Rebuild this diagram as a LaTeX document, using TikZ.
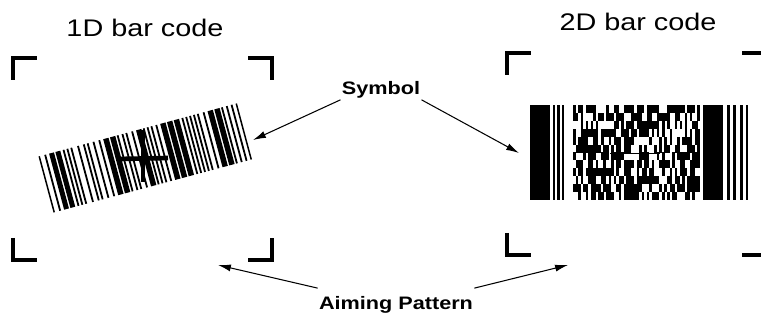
\documentclass[tikz,border=0pt]{standalone}
\usepackage{fontspec}
\setmainfont{Liberation Sans}
\newfontfamily\widefont[FakeStretch=1.2]{Liberation Sans}
\usetikzlibrary{arrows.meta, positioning}

\begin{document}
\begin{tikzpicture}[x=0.03cm, y=-0.03cm,
  corner/.style={line width=3pt, line join=miter},
  pointer/.style={-{Latex[length=11pt, width=6pt]}, line width=0.9pt},
  title/.style={font=\widefont\fontsize{20.5}{24}\selectfont},
  callout/.style={font=\widefont\bfseries\fontsize{15.4}{18}\selectfont, inner sep=1pt}]
  \clip (0,0) rectangle (761,320);

  % titles
  \node[title] (title1d) at (145,28) {1D bar code};
  \node[title] (title2d) at (638,22) {2D bar code};

  % aiming pattern corners of both fields
  \foreach \xa/\xb/\ya/\yb in {13/272/58/260, 507/766/53/255} {
    \draw[corner] (\xa,\ya+22) -- (\xa,\ya) -- (\xa+24,\ya);
    \draw[corner] (\xb-24,\ya) -- (\xb,\ya) -- (\xb,\ya+22);
    \draw[corner] (\xa,\yb-22) -- (\xa,\yb) -- (\xa+24,\yb);
    \draw[corner] (\xb-24,\yb) -- (\xb,\yb) -- (\xb,\yb-22);
  }

  % 1D bar code, tilted
  \begin{scope}[shift={(145,158)}, rotate=15]
    \foreach \bx/\bw in {0/1.5, 6/1.8, 11/5, 17.5/5, 25/1.8, 29/1.8, 33/1.8,
        40/1.8, 46/1.8, 50/1.8, 56/1.8, 62/1.8, 67/5.5, 74/5.5, 81/1.8,
        86/1.8, 90/1.8, 96/1.8, 101/5.5, 108/1.8, 112/1.8, 116/1.8, 121/1.8,
        126/5.5, 133/5.5, 140/5.5, 148/1.8, 152/1.8, 156/1.8, 160/1.8,
        164/1.8, 170/1.8, 175/5.5, 182/5.5, 189/1.8, 194/1.8, 199/1.8, 204/1.5}
      \fill (\bx-102.5,-29) rectangle ++(\bw,58);
  \end{scope}
  % aiming cross
  \draw[line width=4pt] (118,159) -- (168,158);
  \draw[line width=4pt] (143,130) -- (143,182);

  % 2D bar code: start pattern
  \fill (530,105) rectangle (550,200);
  \foreach \bx/\bw in {553/2, 557/2.5, 562/2}
    \fill (\bx,105) rectangle ++(\bw,95);
  % data region
  \pgfmathsetseed{417}
  \foreach \r in {0,...,11}
    \foreach \c in {0,...,49} {
      \pgfmathrandominteger{\cell}{0}{9}
      \ifnum\cell>3 \fill (573+2.54*\c,105+7.917*\r) rectangle ++(2.6,7.97); \fi
    }
  \draw[line width=0.8pt] (610,153) -- (660,153);
  % stop pattern
  \fill (703,105) rectangle (723,200);
  \foreach \bx/\bw in {727/3, 733/3, 740/2.5, 746/2}
    \fill (\bx,105) rectangle ++(\bw,95);

  % callouts
  \node[callout] (sym) at (381,90) {Symbol};
  \node[callout] (aim) at (396,305) {Aiming Pattern};
  \coordinate (code1d) at (253,140);
  \coordinate (code2d) at (519,153);
  \coordinate (field1d) at (218,265);
  \coordinate (field2d) at (568,265);
  \draw[pointer] (sym.south west) -- (code1d);
  \draw[pointer] (sym.south east) -- (code2d);
  \draw[pointer] ([yshift=6pt]aim.north west) -- (field1d);
  \draw[pointer] ([yshift=6pt]aim.north east) -- (field2d);
\end{tikzpicture}
\end{document}
